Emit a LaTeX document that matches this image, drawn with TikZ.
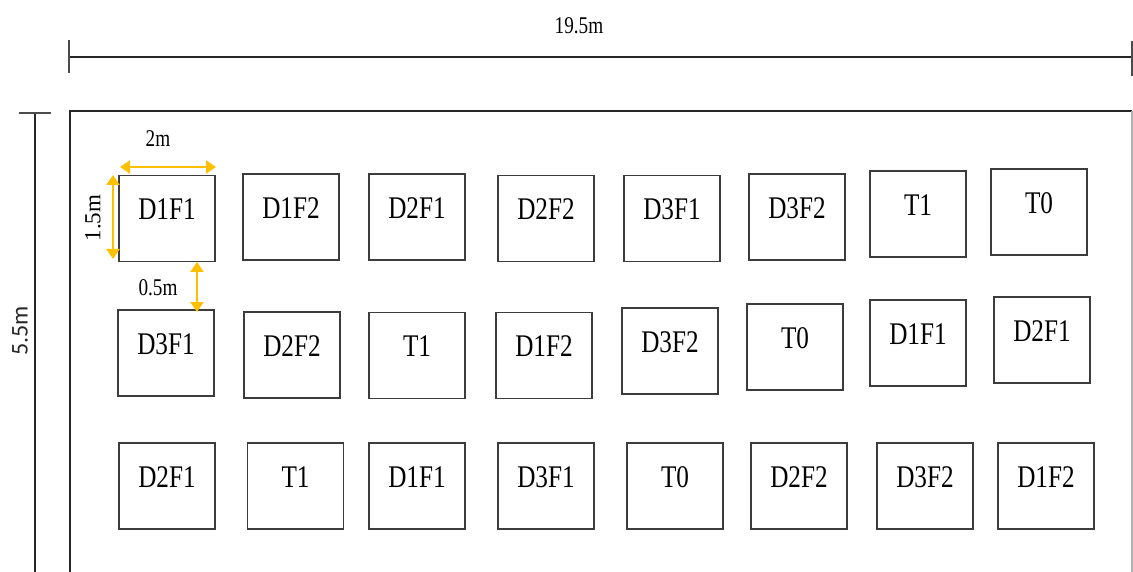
\documentclass[tikz,border=0pt]{standalone}
\usepackage{fontspec}
\setmainfont{Liberation Serif}
\newfontfamily\narrowserif[FakeStretch=0.8]{Liberation Serif}
\newfontfamily\dimsans{Carlito}
\usetikzlibrary{arrows.meta}
\definecolor{dimyellow}{HTML}{FFC000}
\definecolor{boxline}{HTML}{3C3C3C}

\begin{document}
\begin{tikzpicture}[x=1pt,y=-1pt,
  plotbox/.style={draw=boxline, line width=1.3pt, minimum width=96pt,
    minimum height=86pt, inner sep=0pt,
    font=\narrowserif\fontsize{31.5}{31.5}\selectfont,
    text height=20.8pt, text depth=18pt},
  dimtext/.style={inner sep=0pt, font=\narrowserif\fontsize{24}{24}\selectfont},
  dimline/.style={draw=black!85, line width=1.2pt},
  tickline/.style={draw=black!70, line width=1.2pt},
  frameline/.style={draw=black!85, line width=1.4pt},
  sizearrow/.style={draw=dimyellow, line width=2.2pt,
    {Triangle[length=10pt,width=13pt]}-{Triangle[length=10pt,width=13pt]}}
]
\useasboundingbox (0,0) rectangle (1133,572);

% overall width
\coordinate (wl) at (69,57);
\coordinate (wr) at (1132,57);
\draw[dimline] (wl) -- (wr);
\draw[tickline] ([yshift=17pt]wl) -- ([yshift=-16pt]wl);
\draw[tickline] ([yshift=16pt]wr) -- ([yshift=-19pt]wr);
\node[dimtext] (wlab) at (579,26) {19.5m};

% overall length
\coordinate (ht) at (35,113);
\coordinate (hb) at (35,580);
\draw[dimline] (ht) -- (hb);
\draw[tickline] ([xshift=-16pt]ht) -- ([xshift=16pt]ht);
\node[inner sep=0pt, rotate=90, text=black!85, font=\dimsans\fontsize{24}{24}\selectfont] (hlab) at (20,331) {5.5m};

% field boundary
\draw[frameline] (70,600) -- (70,111) -- (1132,111);
\draw[draw=black!30, line width=1.2pt] (1132,111) -- (1132,600);

% row 1
\node[plotbox] (a1) at (167,218.5) {D1F1};
\node[plotbox] (a2) at (291,217) {D1F2};
\node[plotbox] (a3) at (417,217) {D2F1};
\node[plotbox] (a4) at (546,218.5) {D2F2};
\node[plotbox] (a5) at (672,218.5) {D3F1};
\node[plotbox] (a6) at (797,217) {D3F2};
\node[plotbox] (a7) at (918,214) {T1};
\node[plotbox] (a8) at (1039,212) {T0};

% row 2
\node[plotbox] (b1) at (166,353) {D3F1};
\node[plotbox] (b2) at (292,355) {D2F2};
\node[plotbox] (b3) at (417,355.5) {T1};
\node[plotbox] (b4) at (544,355.5) {D1F2};
\node[plotbox] (b5) at (670,351) {D3F2};
\node[plotbox] (b6) at (795,347) {T0};
\node[plotbox] (b7) at (918,343) {D1F1};
\node[plotbox] (b8) at (1042,340) {D2F1};

% row 3
\node[plotbox] (c1) at (167,486) {D2F1};
\node[plotbox] (c2) at (295.5,486) {T1};
\node[plotbox] (c3) at (417,486) {D1F1};
\node[plotbox] (c4) at (546,486) {D3F1};
\node[plotbox] (c5) at (675,486) {T0};
\node[plotbox] (c6) at (799,486) {D2F2};
\node[plotbox] (c7) at (925,486) {D3F2};
\node[plotbox] (c8) at (1046,486) {D1F2};

% plot size and spacing
\coordinate (pw1) at (120,167);
\coordinate (pw2) at (216,167);
\draw[sizearrow] (pw1) -- (pw2);
\node[dimtext] (pwlab) at (158,139) {2m};

\coordinate (ph1) at (113,175);
\coordinate (ph2) at (113,259);
\draw[sizearrow] (ph1) -- (ph2);
\node[inner sep=0pt, rotate=90, font=\fontsize{23}{23}\selectfont] (phlab) at (93,218) {1.5m};

\coordinate (gp1) at (197,262);
\coordinate (gp2) at (197,312);
\draw[sizearrow] (gp1) -- (gp2);
\node[dimtext] (gplab) at (158,288) {0.5m};
\end{tikzpicture}
\end{document}
